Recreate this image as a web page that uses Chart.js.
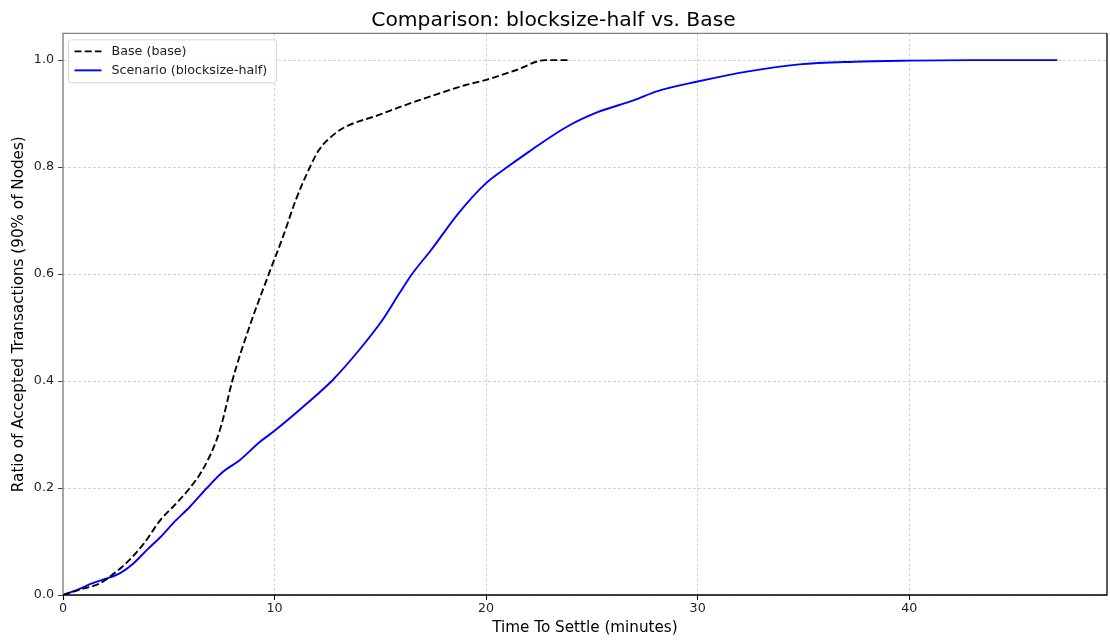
<!DOCTYPE html>
<html lang="en">

<head>
    <meta charset="utf-8">
    <style>
        html, body { margin: 0; padding: 0; background: #fff; }
        #wrap { position: relative; width: 1110px; height: 640px; }
    </style>
</head>

<body>
    <!-- Chart canvas -->
    <div id="wrap">
        <canvas id="settleChart" width="1110" height="640"></canvas>
    </div>

    <!-- Chart.js -->
    <script src="https://cdn.jsdelivr.net/npm/chart.js"></script>

    <script>
        // Values
        const baseTime = [0, 0.8, 1.75, 2.4, 3.0, 3.8, 4.6, 5.2, 5.85, 6.6, 7.26, 7.55, 8.0, 8.8, 9.67, 10.4, 11.0, 11.65, 12.1, 12.9, 13.5, 14.9, 15.9, 17.5, 19.0, 20.0, 21.4, 22.8, 24.0];
        const baseRatio = [0, 0.01, 0.022, 0.04, 0.06, 0.095, 0.14, 0.165, 0.193, 0.234, 0.29, 0.327, 0.40, 0.50, 0.594, 0.67, 0.738, 0.798, 0.832, 0.864, 0.878, 0.897, 0.912, 0.934, 0.953, 0.963, 0.981, 1.0, 1.0];

        const scenarioTime = [0, 0.7, 1.4, 2.0, 2.7, 3.3, 3.96, 4.6, 5.2, 6.0, 6.8, 7.55, 8.35, 9.3, 10.0, 11.5, 12.75, 14.0, 15.1, 15.9, 16.5, 17.4, 18.7, 20.0, 21.0, 22.0, 23.8, 25.3, 27.0, 28.1, 30.0, 32.4, 34.8, 37.4, 40.0, 43.0, 47.0];
        const scenarioRatio = [0, 0.01, 0.022, 0.03, 0.041, 0.058, 0.084, 0.108, 0.134, 0.165, 0.2, 0.23, 0.252, 0.286, 0.307, 0.357, 0.402, 0.458, 0.514, 0.564, 0.60, 0.645, 0.714, 0.77, 0.80, 0.828, 0.875, 0.903, 0.925, 0.942, 0.96, 0.979, 0.992, 0.997, 0.999, 1.0, 1.0];

        const xTicks = [0, 10, 20, 30, 40];
        const yTicks = [0, 0.2, 0.4, 0.6, 0.8, 1.0];

        const FONT = "'DejaVu Sans', sans-serif";

        // pair up x/y arrays for a linear x axis
        function toPoints(xs, ys) {
            return xs.map((x, i) => ({ x: x, y: ys[i] }));
        }

        // Frame (matplotlib spines) + legend inside the plot
        const framePlugin = {
            id: 'frame',
            afterDatasetsDraw(chart) {
                const { ctx, chartArea: a } = chart;
                ctx.save();
                ctx.lineWidth = 1.3;
                ctx.setLineDash([]);
                // left + top: gray
                ctx.strokeStyle = '#808080';
                ctx.beginPath();
                ctx.moveTo(a.left, a.bottom);
                ctx.lineTo(a.left, a.top);
                ctx.lineTo(a.right, a.top);
                ctx.stroke();
                // bottom + right: black
                ctx.strokeStyle = '#000';
                ctx.beginPath();
                ctx.moveTo(a.left, a.bottom);
                ctx.lineTo(a.right, a.bottom);
                ctx.lineTo(a.right, a.top);
                ctx.stroke();

                // legend box
                const bx = a.left + 5.5, by = a.top + 6.5, bw = 208, bh = 43;
                ctx.fillStyle = 'rgba(255,255,255,0.8)';
                ctx.strokeStyle = '#d5d5d5';
                ctx.lineWidth = 1;
                ctx.beginPath();
                ctx.roundRect(bx, by, bw, bh, 3);
                ctx.fill();
                ctx.stroke();

                ctx.font = '12.7px ' + FONT;
                ctx.textBaseline = 'middle';
                chart.data.datasets.forEach((ds, i) => {
                    const y = by + 11.5 + i * 19;
                    ctx.strokeStyle = ds.borderColor;
                    ctx.lineWidth = ds.borderWidth;
                    ctx.setLineDash(ds.borderDash || []);
                    ctx.beginPath();
                    ctx.moveTo(bx + 6, y);
                    ctx.lineTo(bx + 33, y);
                    ctx.stroke();
                    ctx.setLineDash([]);
                    ctx.fillStyle = '#222';
                    ctx.fillText(ds.label, bx + 43, y + 0.5);
                });
                ctx.restore();
            }
        };

        const ctx = document.getElementById('settleChart').getContext('2d');
        const settleChart = new Chart(ctx, {
            type: 'line',
            data: {
                datasets: [{
                    label: 'Base (base)',
                    data: toPoints(baseTime, baseRatio),
                    borderColor: '#000000',
                    borderWidth: 1.9,
                    borderDash: [7, 3.2],
                    pointRadius: 0,
                    fill: false,
                    cubicInterpolationMode: 'monotone',
                }, {
                    label: 'Scenario (blocksize-half)',
                    data: toPoints(scenarioTime, scenarioRatio),
                    borderColor: '#0000ff',
                    borderWidth: 1.9,
                    pointRadius: 0,
                    fill: false,
                    cubicInterpolationMode: 'monotone',
                }],
            },
            options: {
                responsive: false,
                animation: false,
                layout: { padding: { left: 0, right: 3, top: 0, bottom: 0 } },
                plugins: {
                    legend: { display: false },
                    tooltip: { enabled: false },
                    title: {
                        display: true,
                        text: 'Comparison: blocksize-half vs. Base',
                        color: '#000',
                        font: { family: FONT, size: 20.3, weight: 'normal' },
                        padding: { top: 9, bottom: 0 },
                    },
                },
                scales: {
                    x: {
                        type: 'linear',
                        min: 0,
                        max: 49.35,
                        afterBuildTicks: (scale) => { scale.ticks = xTicks.map(v => ({ value: v })); },
                        afterFit: (scale) => { scale.height = 45; },
                        ticks: {
                            color: '#222',
                            font: { family: FONT, size: 12.7 },
                            padding: 1,
                            maxRotation: 0,
                            callback: (v) => String(v),
                        },
                        grid: {
                            color: 'rgba(176,176,176,0.8)',
                            lineWidth: 0.7,
                            drawTicks: true,
                            tickLength: 5,
                            tickColor: '#000',
                            tickBorderDash: [],
                            tickWidth: 1,
                        },
                        border: { display: false, dash: [3, 2] },
                        title: {
                            display: true,
                            text: 'Time To Settle (minutes)',
                            color: '#000',
                            font: { family: FONT, size: 15.2 },
                            padding: { top: 0, bottom: 3 },
                        },
                    },
                    y: {
                        min: 0,
                        max: 1.05,
                        afterBuildTicks: (scale) => { scale.ticks = yTicks.map(v => ({ value: v })); },
                        afterFit: (scale) => { scale.width = 63; },
                        ticks: {
                            color: '#222',
                            font: { family: FONT, size: 12.7 },
                            padding: 4,
                            callback: (v) => Number(v).toFixed(1),
                        },
                        grid: {
                            color: 'rgba(176,176,176,0.8)',
                            lineWidth: 0.7,
                            drawTicks: true,
                            tickLength: 5,
                            tickColor: '#444',
                            tickBorderDash: [],
                            tickWidth: 1,
                        },
                        border: { display: false, dash: [3, 2] },
                        title: {
                            display: true,
                            text: 'Ratio of Accepted Transactions (90% of Nodes)',
                            color: '#000',
                            font: { family: FONT, size: 15.2 },
                            padding: { top: 10, bottom: 0 },
                        },
                    },
                },
            },
            plugins: [framePlugin],
        });
    </script>
</body>

</html>
